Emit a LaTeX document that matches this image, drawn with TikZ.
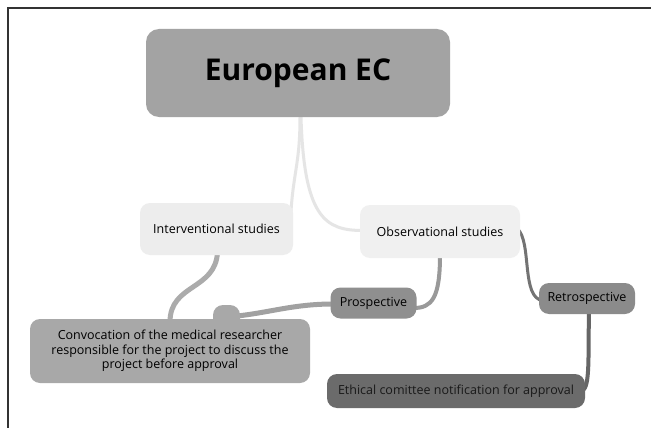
\documentclass[tikz,border=0pt]{standalone}
\usepackage{fontspec}
\setmainfont{Open Sans}
\usetikzlibrary{backgrounds}
\definecolor{ecfill}{HTML}{A3A3A3}
\definecolor{lightfill}{HTML}{EDEDED}
\definecolor{obsfill}{HTML}{F0F0F0}
\definecolor{prosfill}{HTML}{8F8F8F}
\definecolor{retrofill}{HTML}{8B8B8B}
\definecolor{convfill}{HTML}{A8A8A8}
\definecolor{ethfill}{HTML}{6B6B6B}
\tikzset{
  box/.style={draw=none, rounded corners=10pt, inner sep=0pt, align=center,
    font=\fontsize{12.5}{14.5}\selectfont, text=black},
  link/.style={line cap=round, line join=round},
}
\begin{document}
\begin{tikzpicture}[x=1pt,y=-1pt]
\useasboundingbox (0,0) rectangle (651,428);
\coordinate (fl) at (8,428);
\coordinate (fc) at (8,8);
\coordinate (fr) at (651,8);
\draw[line width=1.6pt, black!80] (fl) -- (fc) -- (fr);

\node[box, fill=ecfill, rounded corners=13pt, minimum width=304pt, minimum height=88pt,
  font=\fontsize{30}{36}\selectfont\bfseries] (ec) at (298,73) {European EC};
\node[box, fill=lightfill, minimum width=153pt, minimum height=52pt] (int) at (216.5,229) {Interventional studies};
\node[box, fill=obsfill, minimum width=160pt, minimum height=53pt] (obs) at (440,231.5) {Observational studies};
\node[box, fill=prosfill, minimum width=86pt, minimum height=31pt] (pro) at (373.5,303) {Prospective};
\node[box, fill=retrofill, minimum width=96pt, minimum height=31pt] (ret) at (587,298.5) {Retrospective};
\node[box, fill=convfill, minimum width=280pt, minimum height=64pt] (conv) at (170,351)
  {Convocation of the medical researcher\\responsible for the project to discuss the\\project before approval};
\node[box, fill=convfill, minimum width=27pt, minimum height=24pt] (bump) at (226.5,317) {};
\node[box, fill=ethfill, minimum width=258pt, minimum height=34pt, text=black!90] (eth) at (456,391)
  {Ethical comittee notification for approval};

\begin{scope}[on background layer]
\fill[white] (0,0) rectangle (651,428);
\draw[link, line width=3pt, black!10] ([xshift=2pt]ec.south) .. controls ([xshift=2pt,yshift=-50pt]ec.south) and ([xshift=-1pt,yshift=30pt]int.north east) .. ([xshift=-3pt,yshift=3pt]int.east);
\draw[link, line width=3pt, black!10] ([xshift=3pt]ec.south) .. controls ([xshift=6pt,yshift=-100pt]ec.south) and ([xshift=-35pt,yshift=1pt]obs.west) .. ([xshift=3pt,yshift=1pt]obs.west);
\draw[link, line width=5pt, black!33] ([xshift=1pt,yshift=3pt]int.south) .. controls ([xshift=-1pt,yshift=-35pt]int.south) and ([xshift=0pt,yshift=35pt]conv.north) .. ([yshift=-3pt]conv.north);
\draw[link, line width=4pt, black!40] ([yshift=3pt]obs.south) .. controls ([yshift=-40pt]obs.south) and ([xshift=15pt,yshift=-5pt]pro.east) .. ([xshift=-3pt,yshift=-5pt]pro.east);
\draw[link, line width=5pt, black!37] ([xshift=3pt,yshift=-1pt]pro.west) .. controls ([xshift=-40pt,yshift=-1pt]pro.west) and ([xshift=40pt,yshift=3pt]bump.center) .. (bump.center);
\draw[link, line width=3pt, black!55] ([xshift=-3pt,yshift=3pt]obs.east) .. controls ([xshift=12pt,yshift=-10pt]obs.east) and ([xshift=-18pt,yshift=0pt]ret.west) .. ([xshift=4pt,yshift=-2pt]ret.west);
\draw[link, line width=4pt, black!60] ([xshift=2pt,yshift=3pt]ret.south) .. controls ([xshift=1pt,yshift=-45pt]ret.south) and ([xshift=5pt,yshift=5pt]eth.east) .. ([xshift=-3pt]eth.east);
\end{scope}
\end{tikzpicture}
\end{document}
